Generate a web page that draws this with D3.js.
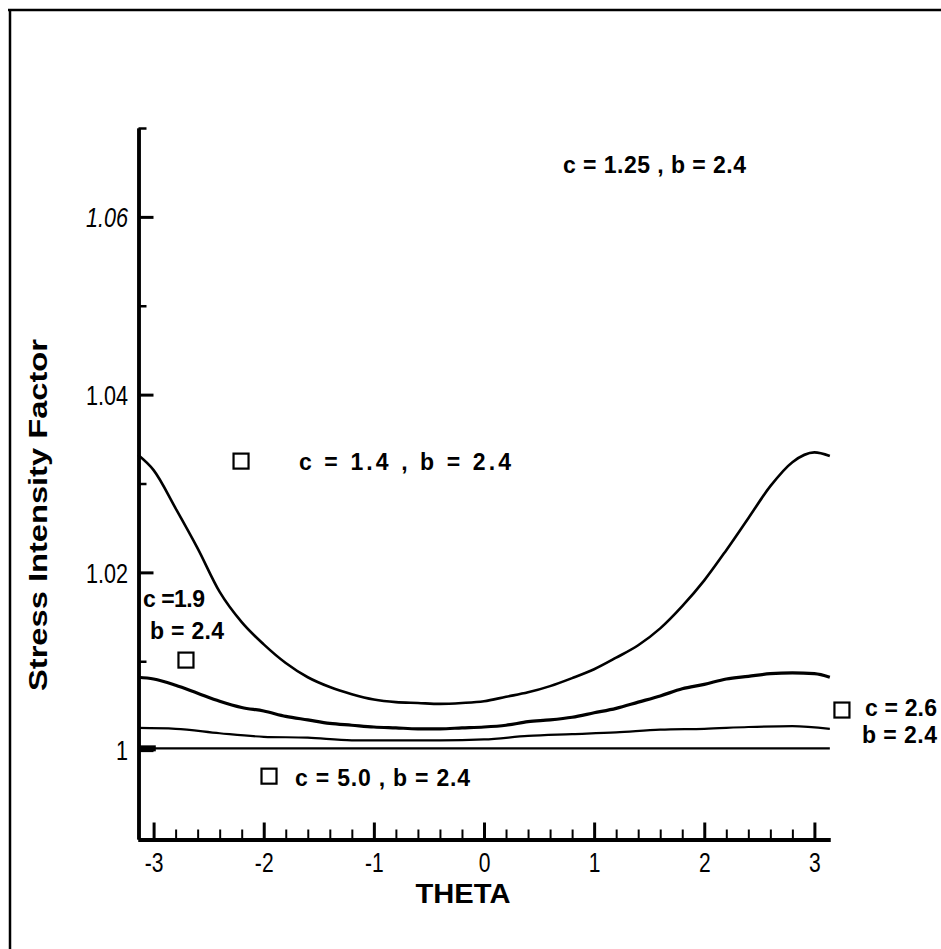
<!DOCTYPE html>
<html><head><meta charset="utf-8">
<script src="https://cdn.jsdelivr.net/npm/d3@7"></script>
<style>body{margin:0;background:#fff}svg{display:block}</style>
</head><body>
<svg id="chart" width="941" height="949"></svg>
<script>
// ---------- data ----------
const thetaFine = [-3.14,-3.0,-2.8,-2.6,-2.4,-2.2,-2.0,-1.8,-1.6,-1.4,-1.2,-1.0,-0.8,-0.6,-0.4,-0.2,0,0.2,0.4,0.6,0.8,1.0,1.2,1.4,1.6,1.8,2.0,2.2,2.4,2.6,2.8,3.0,3.14];
const sifC14 = [1.0332,1.0315,1.0272,1.0227,1.0178,1.0144,1.0119,1.0098,1.0082,1.0071,1.0063,1.0057,1.0054,1.0053,1.0052,1.0053,1.0055,1.0060,1.0065,1.0072,1.0081,1.0091,1.0104,1.0118,1.0137,1.0162,1.0191,1.0225,1.0261,1.0297,1.0324,1.0335,1.0331];
const sifC19 = [1.0082,1.0080,1.0073,1.0064,1.0055,1.0048,1.0044,1.0038,1.0034,1.0030,1.0028,1.0026,1.0025,1.0024,1.0024,1.0025,1.0026,1.0028,1.0032,1.0034,1.0037,1.0042,1.0047,1.0054,1.0061,1.0069,1.0074,1.0080,1.0083,1.0086,1.0087,1.0086,1.0082];
const thetaCoarse = [-3.14,-2.8,-2.4,-2.0,-1.6,-1.2,-0.8,-0.4,0,0.4,0.8,1.2,1.6,2.0,2.4,2.8,3.14];
const sifC26 = [1.0025,1.0024,1.0019,1.0015,1.0014,1.0011,1.0011,1.0011,1.0012,1.0016,1.0018,1.0020,1.0023,1.0024,1.0026,1.0027,1.0024];
const thetaFlat = [-3.14,0,3.14];
const sifC50 = [1.0002,1.0002,1.0002];
const stubTheta = [-3.14,-2.98];
const stubSif = [1.0002,1.0002];

const xMajorTicks = [-3,-2,-1,0,1,2,3];
const xMinorTicks = [-2.8,-2.6,-2.4,-2.2,-1.8,-1.6,-1.4,-1.2,-0.8,-0.6,-0.4,-0.2,0.2,0.4,0.6,0.8,1.2,1.4,1.6,1.8,2.2,2.4,2.6,2.8];
const yMajorTicks = [1.00,1.02,1.04,1.06];
const yMinorTicks = [1.01,1.03,1.05,1.07];

const markerTheta = [-2.206,-2.706,-1.952,3.250];
const markerSif = [1.03252,1.01013,0.99707,1.00451];

const noteText = ["c = 1.25 , b = 2.4","c = 1.4 , b = 2.4","c =1.9","b = 2.4","c = 5.0 , b = 2.4","c = 2.6","b = 2.4"];
const noteTheta = [0.717,-1.680,-3.096,-3.033,-1.716,3.459,3.432];
const noteSif = [1.0649,1.03152,1.01610,1.01250,0.99596,1.00384,1.00080];

const xTitle = "THETA";
const yTitle = "Stress Intensity Factor";

// ---------- styles ----------
const noteWidths = [183,212,62,74,175,72,75];

// ---------- drawing ----------
const svg = d3.select("#chart");
const x = d3.scaleLinear().domain([-Math.PI, Math.PI]).range([138, 830]);
const y = d3.scaleLinear().domain([0.99, 1.07]).range([839, 128]);

// frame
svg.append("line").attr("x1",10).attr("x2",10).attr("y1",9).attr("y2",949).attr("stroke","#000").attr("stroke-width",2.5);
svg.append("line").attr("x1",8).attr("x2",941).attr("y1",10).attr("y2",10).attr("stroke","#000").attr("stroke-width",2.5);

const tickFont = "'Liberation Sans Narrow','Liberation Sans',Arial,sans-serif";

// x axis
const gx = svg.append("g").attr("transform","translate(0,839.5)");
gx.call(d3.axisBottom(x).tickValues(xMinorTicks).tickSizeInner(-10).tickSizeOuter(0).tickFormat(""));
gx.selectAll(".tick line").attr("stroke-width",2);
const gx2 = svg.append("g").attr("transform","translate(0,839.5)");
gx2.call(d3.axisBottom(x).tickValues(xMajorTicks).tickSizeInner(-17).tickSizeOuter(0).tickPadding(0).tickFormat(d3.format("d")));
gx2.selectAll(".tick line").attr("stroke-width",3);
gx2.selectAll(".tick text").attr("y",13).attr("dy","0.71em")
  .attr("font-family",tickFont).attr("font-size",27).attr("fill","#000")
  .attr("transform","scale(0.78,1)").text(d => (d<0?"-":"")+Math.abs(d));
[gx,gx2].forEach(g => g.select(".domain").attr("stroke-width",4));

// y axis
const gy = svg.append("g").attr("transform","translate(138.5,0)");
gy.call(d3.axisLeft(y).tickValues(yMinorTicks).tickSizeInner(-8).tickSizeOuter(0).tickFormat(""));
gy.selectAll(".tick line").attr("stroke-width",2.5);
const gy2 = svg.append("g").attr("transform","translate(138.5,0)");
gy2.call(d3.axisLeft(y).tickValues(yMajorTicks).tickSizeInner(-15).tickSizeOuter(0).tickPadding(0)
  .tickFormat(d => d===1 ? "1" : d3.format(".2f")(d)));
gy2.selectAll(".tick text").attr("x",-13).attr("dy","0.36em")
  .attr("font-family",tickFont).attr("font-size",27).attr("fill","#000")
  .attr("font-style", d => d===1.06 ? "italic" : "normal")
  .attr("transform","scale(0.8,1)");
gy2.selectAll(".tick line").attr("stroke-width",3);
[gy,gy2].forEach(g => g.select(".domain").attr("stroke-width",3.5));

// curves
const line = d3.line().x(d=>x(d[0])).y(d=>y(d[1])).curve(d3.curveMonotoneX);
const curves = [
  {t:thetaFine, v:sifC14, w:2.6},
  {t:thetaFine, v:sifC19, w:3.2},
  {t:thetaCoarse, v:sifC26, w:2.2},
  {t:thetaFlat, v:sifC50, w:2.2},
  {t:stubTheta, v:stubSif, w:6}
];
curves.forEach(c => {
  svg.append("path").datum(d3.zip(c.t, c.v)).attr("d", line)
    .attr("fill","none").attr("stroke","#000").attr("stroke-width",c.w).attr("stroke-linejoin","round");
});

// markers
svg.selectAll("rect.mk").data(d3.zip(markerTheta, markerSif)).join("rect")
  .attr("class","mk")
  .attr("x", d => x(d[0]) - 7.5).attr("y", d => y(d[1]) - 7.5)
  .attr("width",15).attr("height",15)
  .attr("fill","none").attr("stroke","#000").attr("stroke-width",2.2);

// annotations
const noteFont = "'Liberation Sans',Arial,sans-serif";
svg.selectAll("text.note").data(d3.zip(noteText, noteTheta, noteSif, noteWidths)).join("text")
  .attr("class","note")
  .attr("x", d => x(d[1])).attr("y", d => y(d[2]))
  .attr("font-family",noteFont).attr("font-weight","bold").attr("font-size",23)
  .attr("textLength", d => d[3]).attr("lengthAdjust","spacing")
  .attr("fill","#000").text(d => d[0]);

// axis titles
svg.append("text").attr("x",463).attr("y",903).attr("text-anchor","middle")
  .attr("font-family",noteFont).attr("font-weight","bold").attr("font-size",27)
  .attr("textLength",95).attr("lengthAdjust","spacingAndGlyphs").text(xTitle);
svg.append("text").attr("transform","translate(47,515) rotate(-90)").attr("text-anchor","middle")
  .attr("font-family",noteFont).attr("font-weight","bold").attr("font-size",25)
  .attr("textLength",352).attr("lengthAdjust","spacingAndGlyphs").text(yTitle);
</script>
</body></html>
